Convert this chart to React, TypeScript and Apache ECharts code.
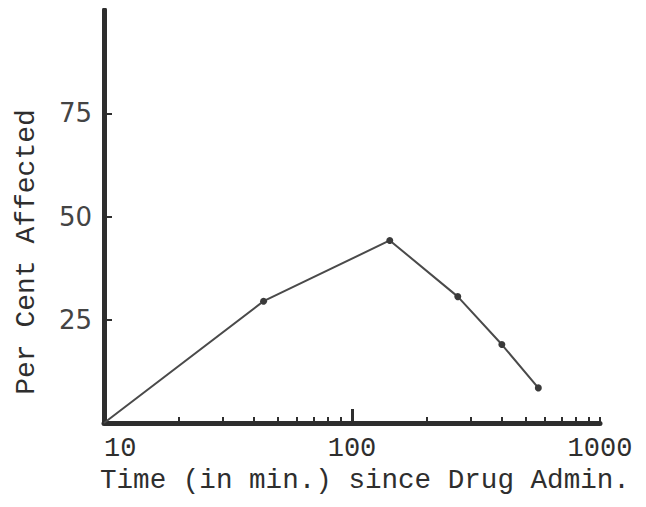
import React, { useEffect, useRef } from "react";
import * as echarts from "echarts";

const timeMinutes = [10, 44, 142, 267, 402, 564];
const percentAffected = [0, 29.5, 44.2, 30.6, 19, 8.5];
const xLabelValues = [10, 100, 1000];
const xMinorTickValues = [10, 20, 30, 40, 50, 60, 70, 80, 90, 100, 200, 300, 400, 500, 600, 700, 800, 900, 1000];
const xMajorTickValues = [100];
const yTickValues = [25, 50, 75];
const xTitle = "Time (in min.) since Drug Admin.";
const yTitle = "Per Cent Affected";

const FONT = "'Liberation Mono', 'DejaVu Sans Mono', monospace";
const INK = "#2e2e2e";

export default function App() {
  const ref = useRef<HTMLDivElement>(null);
  useEffect(() => {
    if (!ref.current) return;
    const chart = echarts.init(ref.current, undefined, { renderer: "svg" });
    const data = timeMinutes.map((t, i) => ({
      value: [t, percentAffected[i]],
      symbolSize: i === 0 ? 0 : 7,
    }));
    chart.setOption({
      animation: false,
      backgroundColor: "#ffffff",
      grid: { left: 104, right: 46, top: 10, bottom: 84 },
      xAxis: [
        {
          type: "log",
          logBase: 10,
          min: 10,
          max: 1000,
          axisLine: { show: true, lineStyle: { color: INK, width: 5 } },
          axisTick: {
            show: true,
            inside: true,
            length: 6,
            customValues: xMinorTickValues,
            lineStyle: { color: INK, width: 2 },
          },
          axisLabel: {
            show: true,
            customValues: xLabelValues,
            margin: 12,
            color: INK,
            fontFamily: FONT,
            fontSize: 27,
            alignMinLabel: "left",
            formatter: (v: number) => String(Math.round(v)),
          },
          splitLine: { show: false },
          minorTick: { show: false },
        },
        {
          type: "log",
          logBase: 10,
          min: 10,
          max: 1000,
          position: "bottom",
          axisLine: { show: false },
          axisTick: {
            show: true,
            inside: true,
            length: 14,
            customValues: xMajorTickValues,
            lineStyle: { color: INK, width: 3 },
          },
          axisLabel: { show: false },
          splitLine: { show: false },
        },
      ],
      yAxis: {
        type: "value",
        min: 0,
        max: 100,
        interval: 25,
        axisLine: { show: true, lineStyle: { color: INK, width: 5, cap: "round" } },
        axisTick: {
          show: true,
          inside: true,
          length: 8,
          customValues: yTickValues,
          lineStyle: { color: INK, width: 2 },
        },
        axisLabel: {
          show: true,
          customValues: yTickValues,
          margin: 12,
          color: "#444444",
          fontFamily: "'DejaVu Sans', sans-serif",
          fontSize: 26,
          padding: [12, 0, 0, 0],
        },
        splitLine: { show: false },
      },
      graphic: [
        {
          type: "text",
          x: 100,
          y: 480,
          style: {
            text: xTitle,
            fill: INK,
            font: `27.6px ${FONT}`,
            align: "left",
            verticalAlign: "middle",
          },
        },
        {
          type: "text",
          x: 26,
          y: 252,
          rotation: Math.PI / 2,
          style: {
            text: yTitle,
            fill: INK,
            font: `28px ${FONT}`,
            align: "center",
            verticalAlign: "middle",
          },
        },
      ],
      series: [
        {
          type: "line",
          xAxisIndex: 0,
          data,
          symbol: "circle",
          lineStyle: { color: "#4a4a4a", width: 2 },
          itemStyle: { color: "#3a3a3a" },
        },
      ],
    });
    return () => chart.dispose();
  }, []);
  return <div ref={ref} style={{ width: 646, height: 507, marginLeft: -8, marginTop: -8 }} />;
}
